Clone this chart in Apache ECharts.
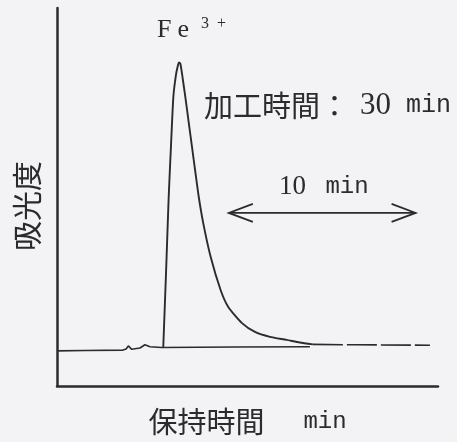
<!DOCTYPE html>
<html>
<head>
<meta charset="utf-8">
<script src="https://cdn.jsdelivr.net/npm/echarts@6/dist/echarts.min.js"></script>
<style>
  html, body { margin: 0; padding: 0; background: #f3f3f5; }
  #chart { width: 457px; height: 442px; }
</style>
</head>
<body>
<div id="chart"></div>
<script>
// Retention time (min) and absorbance (arbitrary units) of the Fe3+ peak
const peakTime = [5.69, 5.84, 5.98, 6.10, 6.23, 6.37, 6.48, 6.53, 6.61, 6.72, 6.87, 7.05, 7.23, 7.41,
  7.59, 7.83, 8.23, 8.76, 9.17, 9.89, 10.60, 11.40, 12.30, 13.00, 13.70];
const peakAbs = [10.3, 30.2, 50.0, 63.2, 76.5, 82.3, 84.9, 85.6, 85.2, 81.7, 76.5, 69.8, 63.2, 56.5,
  50.0, 43.1, 34.1, 25.4, 20.9, 16.7, 14.3, 13.0, 12.2, 11.5, 11.0];

// Detector baseline before and under the peak
const baseTime = [0, 1.5, 3.53, 3.70, 3.82, 4.00, 4.44, 4.71, 4.98, 5.60, 9.50, 13.54];
const baseAbs = [9.3, 9.4, 9.5, 9.8, 10.6, 9.7, 10.05, 10.9, 10.4, 10.2, 10.3, 10.4];

// Baseline after the peak has returned
const tailTime = [13.70, 16.00, 19.97];
const tailAbs = [11.0, 10.9, 10.8];

// Time scale bar: 10 min
const scaleBarTime = [9.2, 19.2];
const scaleBarAbs = 45.8;

const ink = '#2b2b2d';
const kanjiFont = '"Noto Sans CJK JP", sans-serif';
const serifFont = '"Liberation Serif", serif';
const monoFont = '"Liberation Mono", monospace';

const zip = (a, b) => a.map((v, i) => [v, b[i]]);

const chart = echarts.init(document.getElementById('chart'));
chart.setOption({
  backgroundColor: '#f3f3f5',
  animation: false,
  grid: { left: 57, top: 8, width: 381, bottom: 56 },
  xAxis: {
    type: 'value', min: 0, max: 20.4,
    axisLine: { lineStyle: { color: ink, width: 2.5 } },
    axisTick: { show: false }, axisLabel: { show: false }, splitLine: { show: false },
    name: '{k|保持時間　}{m|min}',
    nameLocation: 'middle', nameGap: 21,
    nameTextStyle: {
      rich: {
        k: { fontFamily: kanjiFont, fontSize: 29, color: ink },
        m: { fontFamily: monoFont, fontSize: 24, color: ink, padding: [0, 0, 0, 10] }
      }
    }
  },
  yAxis: {
    type: 'value', min: 0, max: 100,
    axisLine: { lineStyle: { color: ink, width: 2.5 } },
    axisTick: { show: false }, axisLabel: { show: false }, splitLine: { show: false },
    name: '吸光度', nameLocation: 'middle', nameGap: 15,
    nameTextStyle: { fontFamily: kanjiFont, fontSize: 30, color: ink, padding: [0, 18, 0, 0] }
  },
  series: [
    {
      type: 'line', data: zip(baseTime, baseAbs), showSymbol: false,
      lineStyle: { color: ink, width: 1.6 }
    },
    {
      type: 'line', data: zip(tailTime, tailAbs), showSymbol: false,
      lineStyle: { color: ink, width: 1.6, type: [30, 4] }
    },
    {
      type: 'line', data: zip(peakTime, peakAbs), showSymbol: false, smooth: 0.2,
      lineStyle: { color: ink, width: 1.9 }
    },
    {
      // double-headed scale arrow
      type: 'custom',
      data: [[scaleBarTime[0], scaleBarTime[1], scaleBarAbs]],
      renderItem: function (params, api) {
        const a = api.coord([api.value(0), api.value(2)]);
        const b = api.coord([api.value(1), api.value(2)]);
        const hx = 24, hy = 9;
        const style = { stroke: ink, lineWidth: 1.8, fill: null };
        return {
          type: 'group',
          children: [
            { type: 'line', shape: { x1: a[0], y1: a[1], x2: b[0], y2: b[1] }, style: style },
            { type: 'polyline', shape: { points: [[a[0] + hx, a[1] - hy], [a[0], a[1]], [a[0] + hx, a[1] + hy]] }, style: style },
            { type: 'polyline', shape: { points: [[b[0] - hx, b[1] - hy], [b[0], b[1]], [b[0] - hx, b[1] + hy]] }, style: style }
          ]
        };
      }
    }
  ],
  graphic: [
    {
      type: 'text', left: 157, top: 16,
      style: {
        text: '{f|F}{e|e}{s|3}{p|+}',
        rich: {
          f: { fontFamily: serifFont, fontSize: 26, fill: ink, padding: [0, 6, 0, 0] },
          e: { fontFamily: serifFont, fontSize: 26, fill: ink, padding: [0, 12, 0, 0] },
          s: { fontFamily: serifFont, fontSize: 16, fill: ink, padding: [0, 8, 12, 0] },
          p: { fontFamily: serifFont, fontSize: 16, fill: ink, padding: [0, 0, 12, 0] }
        }
      }
    },
    {
      type: 'text', left: 204, top: 90,
      style: {
        text: '{k|加工時間：}{d|30}{m| min}',
        rich: {
          k: { fontFamily: kanjiFont, fontSize: 29, fill: ink, padding: [0, 11, 0, 0] },
          d: { fontFamily: serifFont, fontSize: 31, fill: ink },
          m: { fontFamily: monoFont, fontSize: 25, fill: ink }
        }
      }
    },
    {
      type: 'text', left: 279, top: 173,
      style: {
        text: '{d|10}{m| min}',
        rich: {
          d: { fontFamily: serifFont, fontSize: 27, fill: ink },
          m: { fontFamily: monoFont, fontSize: 24, fill: ink, padding: [0, 0, 0, 5] }
        }
      }
    }
  ]
});
</script>
</body>
</html>
